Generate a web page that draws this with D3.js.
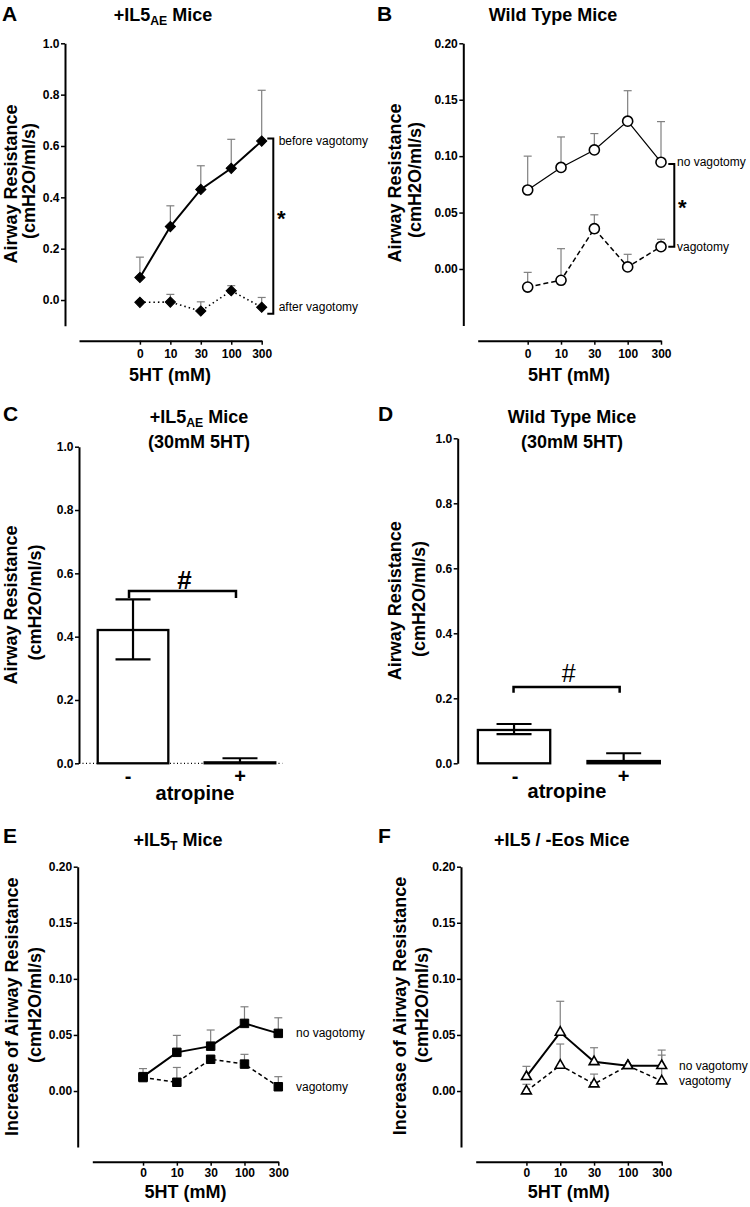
<!DOCTYPE html>
<html><head><meta charset="utf-8">
<script src="https://cdn.jsdelivr.net/npm/d3@7"></script>
<style>
body{margin:0;background:#fff}
svg{display:block}
text{font-family:"Liberation Sans",Arial,Helvetica,sans-serif;fill:#000}
</style>
</head><body>
<svg id="c" width="750" height="1207"></svg>
<script>
// ---------- DATA ----------
const doseLabels = ["0","10","30","100","300"];
const doseIndex = [0,1,2,3,4];

// Panel A (+IL5AE mice)
const aBefore    = [0.088, 0.286, 0.431, 0.513, 0.619];
const aBeforeTop = [0.167, 0.367, 0.523, 0.626, 0.817];
const aAfter     = [-0.009, -0.008, -0.043, 0.036, -0.028];
const aAfterTop  = [-0.009, 0.022, -0.007, 0.056, 0.010];
const aTicks = [0, 0.2, 0.4, 0.6, 0.8, 1.0];
const aBracket = [0.629, -0.053];

// Panel B (wild type)
const bNoVag     = [0.070, 0.090, 0.1055, 0.131, 0.0946];
const bNoVagTop  = [0.100, 0.117, 0.120, 0.158, 0.1306];
const bVag       = [-0.016, -0.010, 0.0357, 0.0018, 0.0198];
const bVagTop    = [-0.003, 0.018, 0.048, 0.013, 0.0263];
const bTicks = [0, 0.05, 0.10, 0.15, 0.20];
const bBracket = [0.093, 0.0198];

// Panel C (+IL5AE, 30mM 5HT, atropine)
const atropineCats = ["-", "+"];
const cMean = [0.421, 0.003];
const cLow  = [0.328, 0.003];
const cHigh = [0.518, 0.016];
const cTicks = [0, 0.2, 0.4, 0.6, 0.8, 1.0];
const cSig = [0.544, 0.522];

// Panel D (wild type, 30mM 5HT, atropine)
const dMean = [0.1025, 0.007];
const dLow  = [0.090, 0.007];
const dHigh = [0.121, 0.031];
const dTicks = [0, 0.2, 0.4, 0.6, 0.8, 1.0];
const dSig = [0.235, 0.217];

// Panel E (+IL5T mice)
const eNoVag    = [0.0128, 0.0345, 0.040, 0.0603, 0.0514];
const eNoVagTop = [0.020, 0.0496, 0.0544, 0.0751, 0.0653];
const eVag      = [0.012, 0.0078, 0.0283, 0.024, 0.0038];
const eVagTop   = [0.012, 0.021, 0.030, 0.0327, 0.0128];
const eTicks = [0, 0.05, 0.10, 0.15, 0.20];

// Panel F (+IL5 / -Eos mice)
const fNoVag    = [0.0128, 0.0523, 0.0261, 0.0226, 0.0226];
const fNoVagTop = [0.022, 0.080, 0.0386, 0.0226, 0.0365];
const fVag      = [0.000, 0.0229, 0.0062, 0.0226, 0.0089];
const fVagTop   = [0.006, 0.0419, 0.0151, 0.0226, 0.032];
const fTicks = [0, 0.05, 0.10, 0.15, 0.20];

// ---------- HELPERS ----------
const svg = d3.select("#c");

function label(x, y, s, size, weight, anchor, extra) {
  const t = svg.append("text").attr("x", x).attr("y", y)
    .attr("font-size", size).attr("font-weight", weight || "normal")
    .attr("text-anchor", anchor || "start").text(s);
  if (extra) extra(t);
  return t;
}

function title(cx, y, parts, size) {
  const t = svg.append("text").attr("x", cx).attr("y", y)
    .attr("font-size", size).attr("font-weight", "bold").attr("text-anchor", "middle");
  let shift = 0;
  parts.forEach(p => {
    const sp = t.append("tspan").text(p.t);
    if (p.sub) { sp.attr("font-size", size * 0.68).attr("dy", 4); shift = 4; }
    else if (shift) { sp.attr("dy", -shift); shift = 0; }
  });
}

function yLabel(x, cy, s) {
  svg.append("text").attr("transform", `translate(${x},${cy}) rotate(-90)`)
    .attr("font-size", 18).attr("font-weight", "bold").attr("text-anchor", "middle").text(s);
}

function styleAxis(ax) {
  ax.select(".domain").attr("stroke", "#000").attr("stroke-width", 2);
  ax.selectAll(".tick line").attr("stroke", "#000").attr("stroke-width", 1.5);
  ax.selectAll(".tick text").attr("font-size", 12).attr("font-weight", "bold")
    .attr("font-family", '"Liberation Sans",Arial,sans-serif').attr("fill", "#000");
}

function linePanel(c) {
  const g = svg.append("g");
  const x = d3.scaleLinear().domain(c.xDomain).range(c.xRange);
  const y = d3.scaleLinear().domain(c.yDomain).range(c.yRange);

  const ya = g.append("g").attr("transform", `translate(${c.yAxisX},0)`)
    .call(d3.axisLeft(y).tickValues(c.yTicks).tickFormat(d3.format(c.fmt)).tickSize(4).tickSizeOuter(0).tickPadding(1.5));
  styleAxis(ya);
  const xa = g.append("g").attr("transform", `translate(0,${c.xAxisY})`)
    .call(d3.axisBottom(x).tickValues(doseIndex).tickFormat(i => doseLabels[i]).tickSize(4).tickSizeOuter(0).tickPadding(c.xPad));
  styleAxis(xa);

  c.series.forEach(s => {
    const eg = g.append("g").attr("stroke", "#808080").attr("stroke-width", 1.2).attr("fill", "none");
    doseIndex.forEach(i => {
      if (s.top[i] <= s.vals[i]) return;
      eg.append("line").attr("x1", x(i)).attr("x2", x(i)).attr("y1", y(s.vals[i])).attr("y2", y(s.top[i]));
      eg.append("line").attr("x1", x(i) - 4).attr("x2", x(i) + 4).attr("y1", y(s.top[i])).attr("y2", y(s.top[i]));
    });
  });
  c.series.forEach(s => {
    const line = d3.line().x((d, i) => x(i)).y(d => y(d));
    g.append("path").datum(s.vals).attr("d", line).attr("fill", "none")
      .attr("stroke", "#000").attr("stroke-width", s.width)
      .attr("stroke-dasharray", s.dash || null);
  });
  c.series.forEach(s => {
    const sym = d3.symbol().type(c.symbol.type).size(c.symbol.size);
    g.selectAll(null).data(s.vals).enter().append("path")
      .attr("d", sym)
      .attr("transform", (d, i) => `translate(${x(i)},${y(d)}) rotate(${c.symbol.rotate || 0})`)
      .attr("fill", c.symbol.fill).attr("stroke", "#000").attr("stroke-width", c.symbol.stroke);
    label(x(4) + c.labelDx, y(s.vals[4]), s.label, 12, "normal", "start",
      t => t.attr("dominant-baseline", "central"));
  });
  if (c.bracket) {
    const bx = x(4) + c.bracketDx;
    const y1 = y(c.bracket[0]), y2 = y(c.bracket[1]);
    g.append("path").attr("d", `M${bx - 6},${y1}H${bx}V${y2}H${bx - 6}`)
      .attr("fill", "none").attr("stroke", "#000").attr("stroke-width", 2);
    label(bx + 8, (y1 + y2) / 2 + c.starDy, "*", 22, "bold", "middle");
  }
  return {x, y};
}

function barPanel(c) {
  const g = svg.append("g");
  const x = d3.scaleBand().domain(atropineCats).range(c.xRange).paddingInner(0.34).paddingOuter(c.padOuter);
  const y = d3.scaleLinear().domain([0, 1]).range(c.yRange);
  const ya = g.append("g").attr("transform", `translate(${c.yAxisX},0)`)
    .call(d3.axisLeft(y).tickValues(c.yTicks).tickFormat(d3.format(".1f")).tickSize(4).tickSizeOuter(0).tickPadding(1.5));
  styleAxis(ya);
  if (c.zeroLine) {
    g.append("line").attr("x1", c.yAxisX).attr("x2", x("+") + x.bandwidth() + 7)
      .attr("y1", y(0)).attr("y2", y(0)).attr("stroke", "#000").attr("stroke-width", 1.2)
      .attr("stroke-dasharray", "1,2.5");
  }
  atropineCats.forEach((k, i) => {
    g.append("rect").attr("x", x(k)).attr("y", y(c.mean[i]))
      .attr("width", x.bandwidth()).attr("height", y(0) - y(c.mean[i]))
      .attr("fill", "#fff").attr("stroke", "#000").attr("stroke-width", 2.3);
  });
  atropineCats.forEach((k, i) => {
    const cx = x(k) + x.bandwidth() / 2;
    const eg = g.append("g").attr("stroke", "#000").attr("stroke-width", 2.2).attr("fill", "none");
    eg.append("line").attr("x1", cx).attr("x2", cx).attr("y1", y(c.low[i])).attr("y2", y(c.high[i]));
    eg.append("line").attr("x1", cx - 17.5).attr("x2", cx + 17.5).attr("y1", y(c.high[i])).attr("y2", y(c.high[i]));
    if (c.low[i] < c.mean[i])
      eg.append("line").attr("x1", cx - 17.5).attr("x2", cx + 17.5).attr("y1", y(c.low[i])).attr("y2", y(c.low[i]));
    label(cx - (i === 0 ? c.minusDx : 0), y(0) + 19.5, k, 20, "bold", "middle");
  });
  const x1 = x("-") + x.bandwidth() / 2 + c.sigDx, x2 = x("+") + x.bandwidth() / 2 - 4;
  g.append("path").attr("d", `M${x1},${y(c.sig[1])}V${y(c.sig[0])}H${x2}V${y(c.sig[1])}`)
    .attr("fill", "none").attr("stroke", "#000").attr("stroke-width", 2.5);
  label((x1 + x2) / 2 + 2, y(c.sig[0]) + c.hashDy, "#", c.hashSize, c.hashWeight, "middle");
  label(c.atropineX, c.atropineY, "atropine", 20, "bold", "middle");
}

// ---------- PANEL A ----------
label(2, 21, "A", 21, "bold");
title(163, 21, [{t:"+IL5"},{t:"AE",sub:true},{t:" Mice"}], 18);
yLabel(16.5, 184, "Airway Resistance");
yLabel(35, 181, "(cmH2O/ml/s)");
linePanel({
  xDomain: [-2, 4], xRange: [79, 261.7], yDomain: [-0.1, 1], yRange: [325.7, 43.3],
  yAxisX: 65, xAxisY: 340.7, xPad: 4.5, yTicks: aTicks, fmt: ".1f",
  symbol: {type: d3.symbolSquare, size: 52, rotate: 45, fill: "#000", stroke: 1},
  series: [
    {vals: aBefore, top: aBeforeTop, width: 2, dash: null, label: "before vagotomy"},
    {vals: aAfter, top: aAfterTop, width: 1.6, dash: "1.5,3", label: "after vagotomy"}
  ],
  labelDx: 17, bracket: aBracket, bracketDx: 11.6, starDy: 0
});
label(170, 380.5, "5HT (mM)", 18, "bold", "middle");

// ---------- PANEL B ----------
label(377, 21, "B", 21, "bold");
title(553, 21, [{t:"Wild Type Mice"}], 18);
yLabel(400.6, 183, "Airway Resistance");
yLabel(420.6, 180, "(cmH2O/ml/s)");
linePanel({
  xDomain: [-1.5, 4], xRange: [477.7, 661], yDomain: [-0.05, 0.20], yRange: [325.4, 43.3],
  yAxisX: 463.3, xAxisY: 340.7, xPad: 4.5, yTicks: bTicks, fmt: ".2f",
  symbol: {type: d3.symbolCircle, size: 80, fill: "#fff", stroke: 1.6},
  series: [
    {vals: bNoVag, top: bNoVagTop, width: 1.2, dash: null, label: "no vagotomy"},
    {vals: bVag, top: bVagTop, width: 1.5, dash: "5,3", label: "vagotomy"}
  ],
  labelDx: 16, bracket: bBracket, bracketDx: 13.3, starDy: 10
});
label(569, 380.5, "5HT (mM)", 18, "bold", "middle");

// ---------- PANEL C ----------
label(3, 421, "C", 21, "bold");
title(199, 423, [{t:"+IL5"},{t:"AE",sub:true},{t:" Mice"}], 18);
title(199, 448, [{t:"(30mM 5HT)"}], 18);
yLabel(17, 605, "Airway Resistance");
yLabel(41, 602.5, "(cmH2O/ml/s)");
barPanel({
  xRange: [79, 294], padOuter: 0.175, yRange: [763.3, 446.7], yAxisX: 79, yTicks: cTicks,
  mean: cMean, low: cLow, high: cHigh, sig: cSig, zeroLine: true,
  hashSize: 26, hashWeight: "bold", hashDy: -2.5, sigDx: -4, minusDx: 5,
  atropineX: 195, atropineY: 799.5
});

// ---------- PANEL D ----------
label(378, 421, "D", 21, "bold");
title(572, 423, [{t:"Wild Type Mice"}], 18);
title(572, 448, [{t:"(30mM 5HT)"}], 18);
yLabel(400.6, 600.7, "Airway Resistance");
yLabel(424.6, 599, "(cmH2O/ml/s)");
barPanel({
  xRange: [457.7, 680], padOuter: 0.184, yRange: [763.3, 438.3], yAxisX: 457.7, yTicks: dTicks,
  mean: dMean, low: dLow, high: dHigh, sig: dSig, zeroLine: false,
  hashSize: 25, hashWeight: "normal", hashDy: -5, sigDx: -0.5, minusDx: -1,
  atropineX: 567, atropineY: 798.3
});

// ---------- PANEL E ----------
label(3, 843, "E", 21, "bold");
title(178, 846, [{t:"+IL5"},{t:"T",sub:true},{t:" Mice"}], 18);
yLabel(17.6, 1006.7, "Increase of Airway Resistance");
yLabel(41, 1005, "(cmH2O/ml/s)");
linePanel({
  xDomain: [-1.5, 4], xRange: [92.3, 278.3], yDomain: [-0.05, 0.20], yRange: [1147.1, 866.7],
  yAxisX: 77.7, xAxisY: 1161.7, xPad: 3, yTicks: eTicks, fmt: ".2f",
  symbol: {type: d3.symbolSquare, size: 72, fill: "#000", stroke: 1},
  series: [
    {vals: eNoVag, top: eNoVagTop, width: 2, dash: null, label: "no vagotomy"},
    {vals: eVag, top: eVagTop, width: 1.5, dash: "4,3", label: "vagotomy"}
  ],
  labelDx: 17.7, bracket: null
});
label(185.5, 1198, "5HT (mM)", 18, "bold", "middle");

// ---------- PANEL F ----------
label(378, 843, "F", 21, "bold");
title(561.7, 846, [{t:"+IL5 / -Eos Mice"}], 18);
yLabel(405.6, 1006, "Increase of Airway Resistance");
yLabel(428, 1005, "(cmH2O/ml/s)");
linePanel({
  xDomain: [-1.5, 4], xRange: [475.7, 661.7], yDomain: [-0.05, 0.20], yRange: [1147.1, 866.7],
  yAxisX: 461, xAxisY: 1161.7, xPad: 3, yTicks: fTicks, fmt: ".2f",
  symbol: {type: d3.symbolTriangle, size: 42, fill: "#fff", stroke: 1.6},
  series: [
    {vals: fNoVag, top: fNoVagTop, width: 2, dash: null, label: "no vagotomy"},
    {vals: fVag, top: fVagTop, width: 1.5, dash: "4,3", label: "vagotomy"}
  ],
  labelDx: 17.3, bracket: null
});
label(568.7, 1198, "5HT (mM)", 18, "bold", "middle");
</script>
</body></html>
